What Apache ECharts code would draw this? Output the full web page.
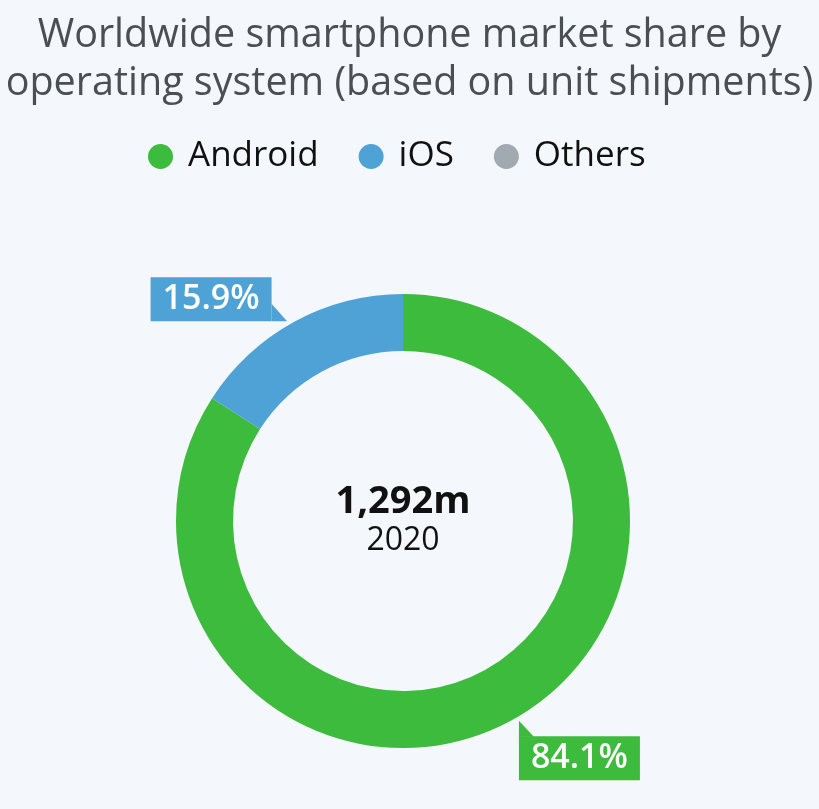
<!DOCTYPE html>
<html><head><meta charset="utf-8">
<script src="https://cdn.jsdelivr.net/npm/echarts@6/dist/echarts.min.js"></script>
<style>html,body{margin:0;padding:0;background:#f4f7fb}#c{width:819px;height:809px}</style>
</head><body><div id="c"></div>
<script>
const categories = ['Android', 'iOS', 'Others'];
const shares = [84.1, 15.9, 0];
const colors = ['#3dbb3d', '#4ea2d6', '#a1a9b1'];
const totalLabel = '1,292m';
const yearLabel = '2020';
const titleLines = ['Worldwide smartphone market share by', 'operating system (based on unit shipments)'];

const FONT = '"Open Sans", "Noto Sans", sans-serif';
const CX = 403, CY = 521, R_IN = 170, R_OUT = 227;
const PTR = 15.5;
const total = shares.reduce((a, b) => a + b, 0);

function tip(i) {
  let before = 0;
  for (let k = 0; k < i; k++) before += shares[k];
  const mid = 90 - (before + shares[i] / 2) / total * 360 + 1.5;
  const a = mid * Math.PI / 180;
  return [CX + (R_OUT + 4) * Math.cos(a), CY - (R_OUT + 4) * Math.sin(a)];
}

const chart = echarts.init(document.getElementById('c'), null, {renderer: 'canvas'});

const pointers = [];
shares.forEach((v, i) => {
  if (!v) return;
  const t = tip(i);
  const pts = t[0] > CX
    ? [[t[0], t[1]], [t[0] + 15, t[1] + PTR + 0.5], [t[0], t[1] + PTR + 0.5]]
    : [[t[0] - 15.5, t[1] - 17.5], [t[0], t[1]], [t[0] - 15.5, t[1]]];
  pointers.push({type: 'polygon', shape: {points: pts}, style: {fill: colors[i]}, z: 10});
});

chart.setOption({
  backgroundColor: '#f4f7fb',
  animation: false,
  color: colors,
  title: {
    text: titleLines.join('\n'),
    left: 'center',
    top: 12,
    padding: 0,
    textStyle: {fontFamily: FONT, fontSize: 39.5, fontWeight: 'normal', color: '#4a4f54', lineHeight: 48}
  },
  legend: {
    data: categories,
    top: 134,
    left: 143,
    icon: 'circle',
    itemWidth: 25,
    itemHeight: 25,
    itemGap: 40,
    selectedMode: false,
    textStyle: {fontFamily: FONT, fontSize: 35, color: '#111', padding: [0, 0, 0, 10]}
  },
  graphic: pointers.concat([
    {type: 'text', x: CX, y: 502, z: 10, style: {text: totalLabel, font: 'bold 38px ' + FONT, fill: '#111', align: 'center', verticalAlign: 'middle', textAlign: 'center', textVerticalAlign: 'middle'}},
    {type: 'text', x: CX, y: 541, z: 10, style: {text: yearLabel, font: '32px ' + FONT, fill: '#111', align: 'center', verticalAlign: 'middle', textAlign: 'center', textVerticalAlign: 'middle'}}
  ]),
  series: [{
    type: 'pie',
    center: [CX, CY],
    radius: [R_IN, R_OUT],
    startAngle: 90,
    clockwise: true,
    avoidLabelOverlap: false,
    emphasis: {disabled: true},
    labelLine: {show: false},
    label: {
      show: true,
      position: 'outside',
      formatter: p => p.value.toFixed(1) + '%',
      fontFamily: FONT,
      fontSize: 34,
      fontWeight: 600,
      color: '#fff',
      padding: [0, 12],
      lineHeight: 44
    },
    labelLayout: function (p) {
      const t = tip(p.dataIndex);
      return t[0] > CX
        ? {x: t[0], y: t[1] + PTR, align: 'left', verticalAlign: 'top'}
        : {x: t[0] - PTR, y: t[1], align: 'right', verticalAlign: 'bottom'};
    },
    data: categories.map((name, i) => ({
      name: name,
      value: shares[i],
      itemStyle: {color: colors[i]},
      label: shares[i] ? {backgroundColor: colors[i]} : {show: false}
    }))
  }]
});
</script>
</body></html>
